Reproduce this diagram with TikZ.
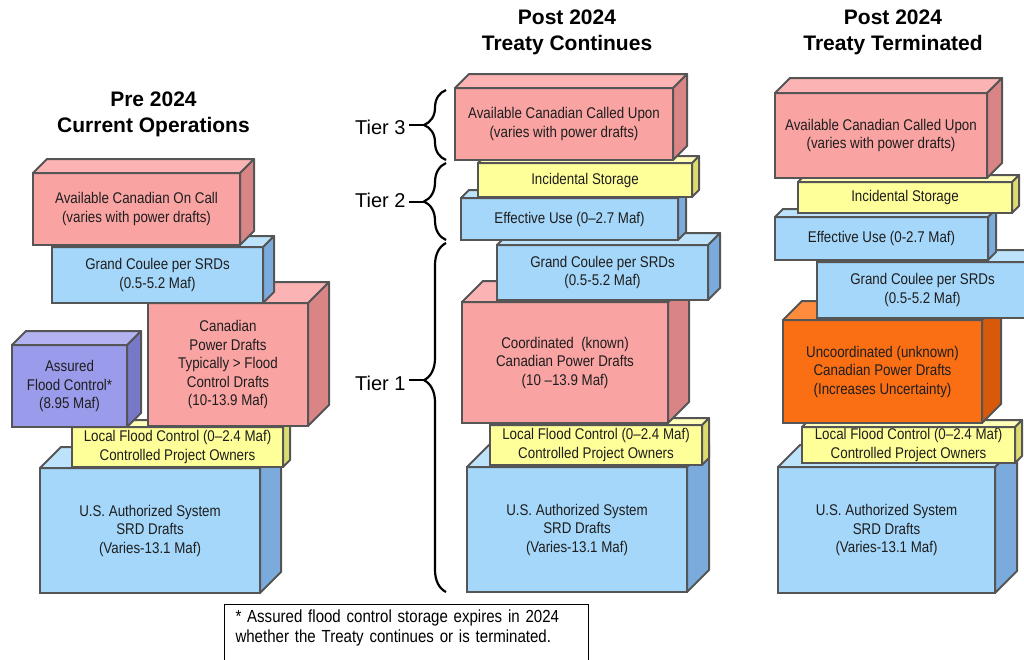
\documentclass[tikz,border=0pt]{standalone}
\usepackage{fontspec}
\setmainfont{Liberation Sans}
\newfontfamily\boxfont[FakeStretch=0.86, Ligatures=TeX]{Liberation Sans}
\usepackage{tikz}
\usetikzlibrary{decorations.pathreplacing}
\definecolor{edge}{HTML}{555555}
\definecolor{ink}{HTML}{1E1E1E}
\definecolor{pinkfront}{HTML}{F9A3A3}
\definecolor{pinkside}{HTML}{D98585}
\definecolor{pinktop}{HTML}{FCB3B3}
\definecolor{bluefront}{HTML}{A5D7FA}
\definecolor{blueside}{HTML}{7BAADC}
\definecolor{bluetop}{HTML}{BDE3FC}
\definecolor{yellowfront}{HTML}{FFFF99}
\definecolor{yellowside}{HTML}{DCDC6E}
\definecolor{yellowtop}{HTML}{FFFFB8}
\definecolor{purplefront}{HTML}{9B9BEB}
\definecolor{purpleside}{HTML}{7878C8}
\definecolor{purpletop}{HTML}{B3B3F2}
\definecolor{orangefront}{HTML}{FA6E14}
\definecolor{orangeside}{HTML}{D75A0A}
\definecolor{orangetop}{HTML}{FF8C3C}
\tikzstyle{slab} = [draw=edge, line width=2pt, outer sep=0pt, inner sep=0pt, align=center, text=ink, font=\boxfont\fontsize{15.5}{18.5}\selectfont]
\tikzstyle{face} = [draw=edge, line width=2pt, line join=round]
\tikzstyle{title} = [align=center, font=\bfseries\fontsize{21}{26}\selectfont]
\tikzstyle{tier} = [font=\fontsize{20}{24}\selectfont, anchor=east]
\tikzstyle{tierbrace} = [decorate, line width=2.2pt]
% top and right faces of a box, drawn on its front node
\newcommand{\cubefaces}[4]{%
  \draw[face, fill=#3] (#1.north east) -- ++(#2,-#2) -- ([shift={(#2,-#2)}]#1.south east) -- (#1.south east) -- cycle;
  \draw[face, fill=#4] (#1.north west) -- ++(#2,-#2) -- ([shift={(#2,-#2)}]#1.north east) -- (#1.north east) -- cycle;}

\begin{document}
\begin{tikzpicture}[x=1pt, y=-1pt]
	\useasboundingbox (0,0) rectangle (1024,659);
	\clip (0,0) rectangle (1024,659);
	\tikzstyle{pinkslab}=[slab, fill=pinkfront]
	\tikzstyle{blueslab}=[slab, fill=bluefront]
	\tikzstyle{yellowslab}=[slab, fill=yellowfront]

	% titles
	\node[title] (preT)  at (153.5,114) {Pre 2024\\Current Operations};
	\node[title] (contT) at (567,32)    {Post 2024\\Treaty Continues};
	\node[title] (termT) at (893,32)    {Post 2024\\Treaty Terminated};

	% pre 2024
	\node[blueslab, minimum width=220, minimum height=125] (usL) at (150,530.5) {U.S. Authorized System\\SRD Drafts\\(Varies-13.1 Maf)};
	\cubefaces{usL}{21}{blueside}{bluetop}
	\node[yellowslab, minimum width=211, minimum height=40] (localL) at (177.5,447) {Local Flood Control (0--2.4 Maf)\\Controlled Project Owners};
	\cubefaces{localL}{7}{yellowside}{yellowtop}
	\node[slab, fill=purplefront, minimum width=115, minimum height=82] (assured) at (69.5,386) {Assured\\Flood Control*\\(8.95 Maf)};
	\cubefaces{assured}{14}{purpleside}{purpletop}
	\node[pinkslab, minimum width=160, minimum height=123] (powerL) at (228,364.5) {Canadian\\Power Drafts\\Typically > Flood\\Control Drafts\\(10-13.9 Maf)};
	\cubefaces{powerL}{21}{pinkside}{pinktop}
	\node[blueslab, minimum width=211, minimum height=56] (gcL) at (157.5,275) {Grand Coulee per SRDs\\(0.5-5.2 Maf)};
	\cubefaces{gcL}{11}{blueside}{bluetop}
	\node[pinkslab, minimum width=207, minimum height=72] (oncall) at (136.5,209) {Available Canadian On Call\\(varies with power drafts)};
	\cubefaces{oncall}{14}{pinkside}{pinktop}

	% post 2024, treaty continues
	\node[blueslab, minimum width=220, minimum height=125] (usM) at (577,529.5) {U.S. Authorized System\\SRD Drafts\\(Varies-13.1 Maf)};
	\cubefaces{usM}{22}{blueside}{bluetop}
	\node[yellowslab, minimum width=212, minimum height=40] (localM) at (596,445) {Local Flood Control (0--2.4 Maf)\\Controlled Project Owners};
	\cubefaces{localM}{7}{yellowside}{yellowtop}
	\node[pinkslab, minimum width=206, minimum height=121] (coordM) at (565,362.5) {Coordinated~ (known)\\Canadian Power Drafts\\(10 --13.9 Maf)};
	\cubefaces{coordM}{21}{pinkside}{pinktop}
	\node[blueslab, minimum width=211, minimum height=55] (gcM) at (602.5,272.5) {Grand Coulee per SRDs\\(0.5-5.2 Maf)};
	\cubefaces{gcM}{12}{blueside}{bluetop}
	\node[blueslab, minimum width=217, minimum height=42] (effM) at (569.5,219) {Effective Use (0--2.7 Maf)};
	\cubefaces{effM}{8}{blueside}{bluetop}
	\node[yellowslab, minimum width=214, minimum height=34] (incM) at (585,180) {Incidental Storage};
	\cubefaces{incM}{7}{yellowside}{yellowtop}
	\node[pinkslab, minimum width=218, minimum height=72] (calledM) at (564,124) {Available Canadian Called Upon\\(varies with power drafts)};
	\cubefaces{calledM}{14}{pinkside}{pinktop}

	% tiers
	\draw[tierbrace, decoration={brace, amplitude=22pt}] (446,160) -- (446,90);
	\draw[tierbrace, decoration={brace, amplitude=22pt}] (446,240) -- (446,163);
	\draw[tierbrace, decoration={brace, amplitude=22pt, aspect=0.607}] (446,592) -- (446,243);
	\coordinate (tip3) at (424,125);
	\coordinate (tip2) at (424,201.5);
	\coordinate (tip1) at (424,380);
	\node[tier] (tier3) at (409,127) {Tier 3};
	\node[tier] (tier2) at (409,200) {Tier 2};
	\node[tier] (tier1) at (409,383) {Tier 1};
	\draw[line width=2pt] (tier3.east |- tip3) -- (tip3);
	\draw[line width=2pt] (tier2.east |- tip2) -- (tip2);
	\draw[line width=2pt] (tier1.east |- tip1) -- (tip1);

	% post 2024, treaty terminated
	\node[blueslab, minimum width=217, minimum height=126] (usR) at (886.5,530) {U.S. Authorized System\\SRD Drafts\\(Varies-13.1 Maf)};
	\cubefaces{usR}{22}{blueside}{bluetop}
	\node[yellowslab, minimum width=213, minimum height=36] (localR) at (908.5,445) {Local Flood Control (0--2.4 Maf)\\Controlled Project Owners};
	\cubefaces{localR}{7}{yellowside}{yellowtop}
	\node[slab, fill=orangefront, minimum width=199, minimum height=103] (uncoord) at (882.5,371.5) {Uncoordinated (unknown)\\Canadian Power Drafts\\(Increases Uncertainty)};
	\cubefaces{uncoord}{19}{orangeside}{orangetop}
	\node[blueslab, minimum width=211, minimum height=56] (gcR) at (922.5,290) {Grand Coulee per SRDs\\(0.5-5.2 Maf)};
	\cubefaces{gcR}{12}{blueside}{bluetop}
	\node[blueslab, minimum width=213, minimum height=43] (effR) at (881.5,238.5) {Effective Use (0-2.7 Maf)};
	\cubefaces{effR}{8}{blueside}{bluetop}
	\node[yellowslab, minimum width=214, minimum height=31] (incR) at (905,197.5) {Incidental Storage};
	\cubefaces{incR}{7}{yellowside}{yellowtop}
	\node[pinkslab, minimum width=212, minimum height=85] (calledR) at (881,135.5) {Available Canadian Called Upon\\(varies with power drafts)};
	\cubefaces{calledR}{15}{pinkside}{pinktop}

	% footnote
	\node[draw, line width=1pt, anchor=north west, align=left, text width=342pt, inner xsep=11pt, inner ysep=5pt, text depth=40pt, font=\boxfont\fontsize{17.5}{20}\selectfont] (note) at (224,604) {* Assured flood control storage expires in 2024\\whether the Treaty continues or is terminated.};
\end{tikzpicture}
\end{document}
